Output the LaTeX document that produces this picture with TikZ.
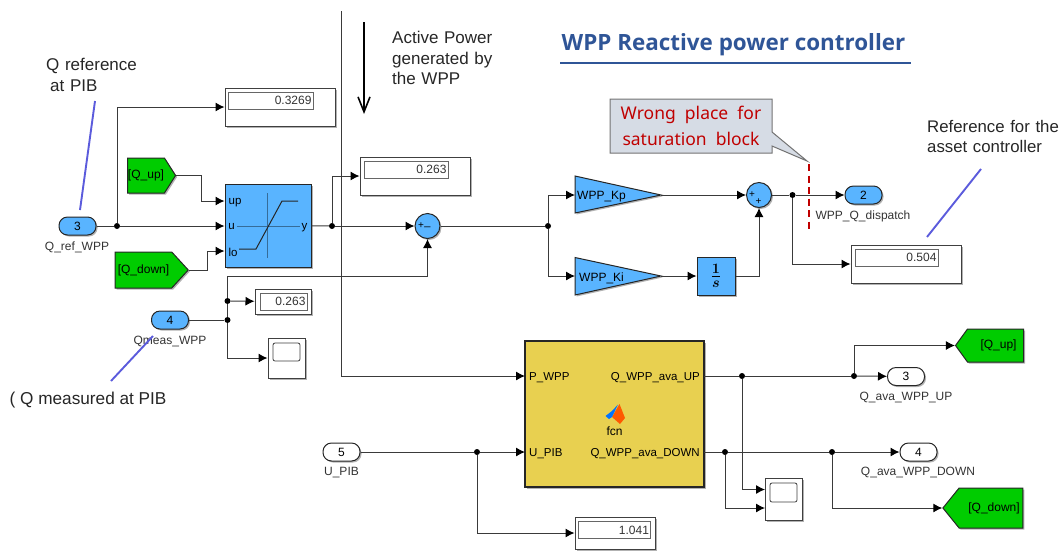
\documentclass[tikz,border=0pt]{standalone}
\usepackage{amsmath}
\usepackage{fontspec}
\setmainfont{Liberation Sans}
\newfontfamily\titlefont{Open Sans}
\newfontfamily\notefont{Noto Sans}
\usetikzlibrary{arrows.meta,shapes.symbols,shapes.callouts,shadows}
\definecolor{simblue}{HTML}{59B4FF}
\definecolor{simgreen}{HTML}{00CC00}
\definecolor{simyellow}{HTML}{E8D050}
\definecolor{simline}{HTML}{3A3A3A}
\definecolor{notelilac}{HTML}{5B5BDC}
\definecolor{titleblue}{HTML}{2F5597}
\definecolor{notefill}{HTML}{D6DCE5}
\definecolor{notered}{HTML}{C00000}
\newcommand{\simsize}[1]{\fontsize{#1}{#1}\selectfont}
\begin{document}
\begin{tikzpicture}
[x=1pt,y=-1pt,
shadowed/.style={drop shadow={shadow xshift=1.5pt,shadow yshift=-1.5pt,opacity=.3,fill=black}},
wire/.style={draw=simline,line width=1pt,-{Latex[length=9pt,width=9pt,black]}},
line/.style={draw=simline,line width=1pt},
dot/.style={circle,fill=black,minimum width=6pt,inner sep=0pt},
port/.style={draw=black!85,line width=1pt,rounded corners=8.5pt,minimum width=37pt,minimum height=18pt,inner sep=0pt,shadowed,font=\simsize{12}},
inport/.style={port,fill=simblue},
outport/.style={port,fill=white},
tag/.style={text=black!80,font=\simsize{12}},
block/.style={draw=black!85,line width=1pt,fill=simblue,inner sep=0pt,shadowed},
gain/.style={draw=black!85,line width=1pt,fill=simblue,shadowed},
disp/.style={draw=black!75,line width=1pt,fill=white,inner sep=0pt,shadowed},
dispin/.style={draw=black!60,line width=.7pt,fill=white,inner sep=1pt,align=right,text=black!80,font=\simsize{12}},
goto/.style={signal,draw=black!85,line width=1pt,fill=simgreen,inner sep=0pt,shadowed,font=\simsize{12}},
scopebox/.style={draw=black!75,line width=1pt,fill=white,minimum width=37pt,inner sep=0pt,shadowed},
screen/.style={draw=black!75,line width=.8pt,rounded corners=2pt,inner sep=0pt},
sumblk/.style={circle,draw=black!85,line width=1pt,fill=simblue,minimum width=25pt,inner sep=0pt,shadowed},
note/.style={text=black!85,align=left,inner sep=0pt},
pointer/.style={notelilac,line width=1.9pt}]
\useasboundingbox (0,0) rectangle (1060,550);

\node[inport] (qref) at (77.5,226) {3};
\node[tag] (qreftag) at (77,247.5) {Q\_ref\_WPP};
\node[goto,signal to=east,signal pointer angle=115,minimum width=48pt,minimum height=35pt] (qupin) at (146,175.5) {[Q\_up]\hspace{9pt}};
\node[goto,signal to=east,signal pointer angle=95,minimum width=73pt,minimum height=36pt] (qdownin) at (143.5,270) {[Q\_down]\hspace{12pt}};
\node[block,minimum width=86pt,minimum height=83pt] (sat) at (268,225.5) {};
\node[inner sep=0pt,font=\simsize{11.5}] (satup) at (235,202.5) {up};
\node[inner sep=0pt,font=\simsize{11.5}] (satu) at (231.5,227) {u};
\node[inner sep=0pt,font=\simsize{11.5}] (satlo) at (233,252.5) {lo};
\node[inner sep=0pt,font=\simsize{11.5}] (saty) at (304.5,228) {y};
\draw[simblue!60!black,line width=.6pt] (267,193) -- (267,258) (237,226) -- (300,226);
\draw[black!85,line width=1pt] (239,249) -- (256,249) -- (282,201) -- (298,201);

\node[disp,minimum width=110pt,minimum height=38pt] (dref) at (280,107) {};
\node[dispin,minimum width=85pt,minimum height=17pt,text width=82pt] (drefin) at (270.5,100.5) {0.3269};
\node[dot] (jref) at (117,226) {};
\node[dot] (jsat) at (332,226) {};
\node[disp,minimum width=110pt,minimum height=38pt] (dsat) at (415,176) {};
\node[dispin,minimum width=84pt,minimum height=17pt,text width=81pt] (dsatin) at (406,169.5) {0.263};
\node[sumblk] (sumerr) at (427.5,226) {};
\node[inner sep=0pt,font=\simsize{10}] (sumerra) at (421,226) {+};
\node[inner sep=0pt,font=\simsize{11}] (sumerrb) at (427.5,227) {\_};

\node[inport] (qmeas) at (170,320) {4};
\node[tag] (qmeastag) at (170,341) {Qmeas\_WPP};
\node[dot] (jmeas) at (227.5,320) {};
\node[dot] (jshow) at (227.5,301) {};
\coordinate (cfb) at (227.5,276);
\node[disp,minimum width=56pt,minimum height=25pt] (dmeas) at (283,301.5) {};
\node[dispin,minimum width=47pt,minimum height=17pt,text width=44pt] (dmeasin) at (283.5,301.5) {0.263};
\node[scopebox,minimum height=40pt] (smeas) at (286.5,358) {};
\node[screen,minimum width=27pt,minimum height=18pt] (smeasin) at (286.5,352) {};

\node[dot] (jerr) at (548,226) {};
\draw[gain] (575,176) -- (661,195) -- (575,213) -- cycle;
\draw[gain] (575,257.5) -- (661,276) -- (575,295) -- cycle;
\node[inner sep=0pt,anchor=west,font=\simsize{12}] (kp) at (577,196.5) {WPP\_Kp};
\node[inner sep=0pt,anchor=west,font=\simsize{12}] (ki) at (579,278) {WPP\_Ki};
\coordinate (kpin) at (575,195);
\coordinate (kpout) at (661,195);
\coordinate (kiin) at (575,276);
\coordinate (kiout) at (661,276);
\node[block,minimum width=38pt,minimum height=38pt] (integ) at (716,276) {\simsize{19}$\boldsymbol{\frac{1}{s}}$};
\node[sumblk] (sumout) at (759,195) {};
\node[inner sep=0pt,font=\simsize{10}] (sumouta) at (752,195) {+};
\node[inner sep=0pt,font=\simsize{10}] (sumoutb) at (758.5,201.5) {+};
\node[dot] (jout) at (792.5,195) {};
\node[inport] (qdisp) at (863.5,195) {2};
\node[tag] (qdisptag) at (863,216.5) {WPP\_Q\_dispatch};
\node[disp,minimum width=110pt,minimum height=38pt] (dout) at (906,264) {};
\node[dispin,minimum width=83pt,minimum height=17pt,text width=80pt] (doutin) at (896.5,257.5) {0.504};

\node[draw=black!85,line width=1.2pt,fill=simyellow,minimum width=179pt,minimum height=146pt,inner sep=0pt,shadowed] (fcn) at (614.5,414) {};
\coordinate (fcnp) at (525,376);
\coordinate (fcnu) at (525,452);
\coordinate (fcnup) at (704,376);
\coordinate (fcndown) at (704,452);
\node[anchor=west,inner sep=0pt,font=\simsize{11.5}] (fcnpname) at (529,377.5) {P\_WPP};
\node[anchor=west,inner sep=0pt,font=\simsize{11.5}] (fcnuname) at (529,453.5) {U\_PIB};
\node[anchor=east,inner sep=0pt,font=\simsize{11.5}] (fcnupname) at (700,377.5) {Q\_WPP\_ava\_UP};
\node[anchor=east,inner sep=0pt,font=\simsize{11.5}] (fcndownname) at (700,453.5) {Q\_WPP\_ava\_DOWN};
\node[inner sep=0pt,font=\simsize{12}] (fcnname) at (614.5,431.5) {fcn};
\fill[orange!70!red] (619.5,404) -- (625,418) -- (620,424) -- (612,417) -- (616,410) -- cycle;
\fill[blue!55!cyan] (605.5,416) -- (612,411) -- (618,404.5) -- (612,417) -- (609,419) -- cycle;

\node[inport,fill=white] (upib) at (341.5,452) {5};
\node[tag] (upibtag) at (341.5,472.5) {U\_PIB};
\node[dot] (jpib) at (477,452) {};
\node[disp,minimum width=80pt,minimum height=32pt] (dpib) at (615,533) {};
\node[dispin,minimum width=72pt,minimum height=17pt,text width=69pt] (dpibin) at (614.5,530) {1.041};

\node[dot] (jup) at (742,376) {};
\node[dot] (jupb) at (854,376) {};
\node[outport] (qupout) at (906,376.5) {3};
\node[tag] (quptag) at (906,397) {Q\_ava\_WPP\_UP};
\node[goto,signal to=west,signal pointer angle=108,minimum width=68pt,minimum height=33pt] (qupgo) at (995.5,345.5) {\hspace{6pt}[Q\_up]};
\node[dot] (jdown) at (725,452) {};
\node[dot] (jdownb) at (832,452) {};
\node[outport] (qdownout) at (918.5,452) {4};
\node[tag] (qdowntag) at (918,472.5) {Q\_ava\_WPP\_DOWN};
\node[goto,signal to=west,signal pointer angle=102,minimum width=80pt,minimum height=40pt] (qdowngo) at (991,508) {\hspace{6pt}[Q\_down]};
\node[scopebox,minimum height=42pt] (sfcn) at (783.5,499) {};
\node[screen,minimum width=27pt,minimum height=19pt] (sfcnin) at (783.5,492.5) {};
\coordinate (sfcna) at (765,489.5);
\coordinate (sfcnb) at (765,508);

\coordinate (ppower) at (341,11);
\path[line] (qref) edge (jref) (sat) edge (jsat) (sumerr) edge (jerr)
(qmeas) edge (jmeas) (jmeas) edge (jshow) (jshow) edge (cfb)
(sumout) edge (jout) (fcnup) edge (jup) (jup) edge (jupb)
(fcndown) edge (jdown) (jdown) edge (jdownb) (upib) edge (jpib);
\draw[wire] (kpout) -- (sumout);
\draw[wire] (jref) -- (sat.west |- jref);
\draw[wire] (jsat) -- (sumerr);
\draw[wire] (jref) |- (dref);
\draw[wire] (jsat) |- (dsat);
\draw[wire] (qupin.east) -- ++(25,0) |- (sat.west |- 0,201);
\draw[wire] (qdownin.east) -- ++(19,0) |- (sat.west |- 0,251);
\draw[wire] (cfb) -| (sumerr);
\draw[wire] (jshow) -- (dmeas);
\draw[wire] (jmeas) |- (smeas);
\draw[wire] (jerr) |- (kpin);
\draw[wire] (jerr) |- (kiin);
\draw[wire] (kiout) -- (integ);
\draw[wire] (integ) -| (sumout);
\draw[wire] (jout) -- (qdisp);
\draw[wire] (jout) |- (dout);
\draw[wire] (ppower) |- (fcnp);
\draw[wire] (jpib) -- (fcnu);
\draw[wire] (jpib) |- (dpib);
\draw[wire] (jupb) -- (qupout);
\draw[wire] (jupb) |- (qupgo.west);
\draw[wire] (jdownb) -- (qdownout);
\draw[wire] (jdownb) |- (qdowngo.west);
\draw[wire] (jup) |- (sfcna);
\draw[wire] (jdown) |- (sfcnb);

\coordinate (flowa) at (364,22);
\coordinate (flowb) at (364,114);
\draw[black,line width=1.6pt,-{Straight Barb[length=15pt,width=12pt]}] (flowa) -- (flowb);
\node[note,anchor=north west,text width=110pt,font=\fontsize{17}{20.5}\selectfont] (flownote) at (392,31) {Active Power\\generated by\\the WPP};
\node[note,anchor=north west,text width=110pt,font=\fontsize{17}{21}\selectfont] (refnote) at (46,58) {Q reference\\\hspace*{4pt}at PIB};
\node[note,anchor=north west,text width=140pt,font=\fontsize{16.8}{20.5}\selectfont] (assetnote) at (927,120) {Reference for the\\asset controller};
\node[note,anchor=west,font=\simsize{17.2}] (measnote) at (9.5,400.5) {( Q measured at PIB};
\coordinate (refa) at (95,101);
\coordinate (refb) at (80,210);
\coordinate (meaa) at (111,381);
\coordinate (meab) at (153,336);
\coordinate (asa) at (981,169);
\coordinate (asb) at (927,237);
\draw[pointer] (refa) -- (refb);
\draw[pointer] (meaa) -- (meab);
\draw[pointer] (asa) -- (asb);

\node[inner sep=0pt,text=titleblue,font=\titlefont\bfseries\simsize{22.4}] (title) at (733.5,45) {WPP Reactive power controller};
\coordinate (rulea) at (560,63);
\coordinate (ruleb) at (911,63);
\draw[titleblue,line width=1.8pt] (rulea) -- (ruleb);
\node[rectangle callout,draw=black!55,line width=1pt,fill=notefill,minimum width=162pt,minimum height=54pt,inner sep=0pt,callout absolute pointer={(807,161)},callout pointer width=14pt,text=notered,align=center,font=\notefont\fontsize{17.5}{26}\selectfont] (wrong) at (691,126) {Wrong~ place~ for\\saturation~ block};
\coordinate (cuta) at (809,164);
\coordinate (cutb) at (809,229);
\draw[notered,line width=2pt,dash pattern=on 7pt off 4.5pt] (cuta) -- (cutb);
\end{tikzpicture}
\end{document}
